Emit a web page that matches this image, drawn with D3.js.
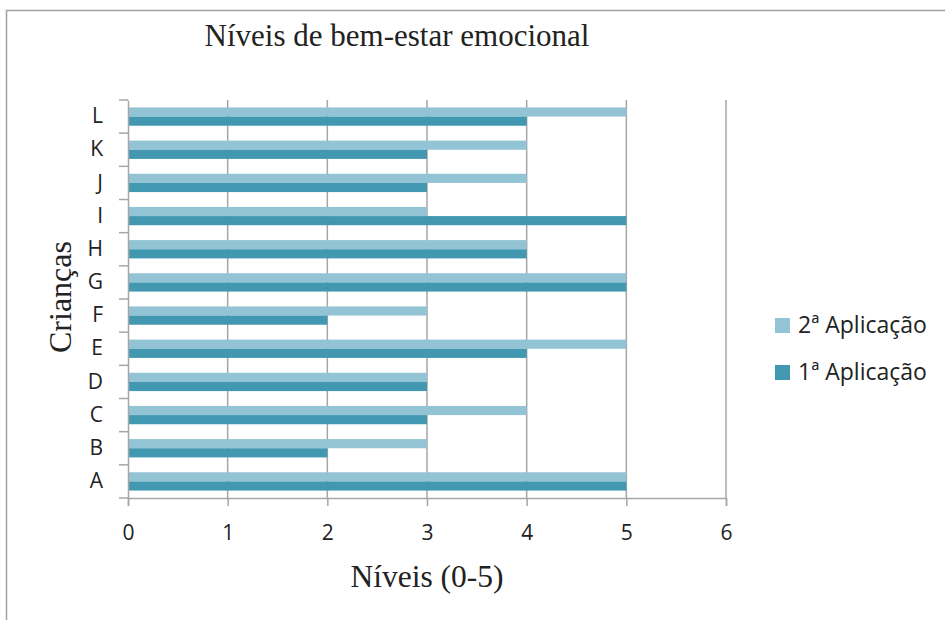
<!DOCTYPE html>
<html>
<head>
<meta charset="utf-8">
<script src="https://cdn.jsdelivr.net/npm/d3@7"></script>
<style>
  body { margin: 0; background: #fff; }
</style>
</head>
<body>
<div id="chart"></div>
<script>
let categories  =   ['A', 'B', 'C', 'D', 'E', 'F', 'G', 'H', 'I', 'J', 'K', 'L'];
let app2        =   [5, 3, 4, 3, 5, 3, 5, 4, 3, 4, 4, 5];
let app1        =   [5, 2, 3, 3, 4, 2, 5, 4, 5, 3, 3, 4];
let series_names =  ['2ª Aplicação', '1ª Aplicação'];
let x_ticks     =   [0, 1, 2, 3, 4, 5, 6];

let chart_width     =   945;
let chart_height    =   620;
let plot_left = 128, plot_right = 726, plot_top = 100, plot_bottom = 498;
let sans = "'Open Sans', 'DejaVu Sans', sans-serif";
let serif = "'Liberation Serif', 'Times New Roman', serif";
let grid_color = '#a6a6a6';
let colors = ['#93c4d5', '#4298b0'];

//svg
let svg = d3.select('#chart')
            .append('svg')
            .attr('width', chart_width)
            .attr('height', chart_height);

// outer frame (cut off at right/bottom)
svg.append('rect')
  .attr('x', 6.5).attr('y', 10.5)
  .attr('width', 1000).attr('height', 700)
  .attr('fill', 'none')
  .attr('stroke', '#a0a0a0')
  .attr('stroke-width', 1.5);

//scales
let x_scale = d3.scaleLinear()
        .domain([0, 6])
        .range([plot_left, plot_right]);

let y_scale = d3.scaleBand()
        .domain(categories.slice().reverse())
        .range([plot_top, plot_bottom]);

let sub_scale = d3.scaleBand()
        .domain([0, 1])
        .range([0, y_scale.bandwidth()])
        .paddingInner(0)
        .paddingOuter(0.81);

//grid
svg.append('g')
  .selectAll('line')
  .data(x_ticks.slice(1))
  .enter()
  .append('line')
  .attr('x1', d => x_scale(d))
  .attr('x2', d => x_scale(d))
  .attr('y1', plot_top)
  .attr('y2', plot_bottom)
  .attr('stroke', grid_color)
  .attr('stroke-width', 1.5);

//bars
let rows = categories.map((c, i) => ({ cat: c, vals: [app2[i], app1[i]] }));

svg.append('g')
  .selectAll('g')
  .data(rows)
  .enter()
  .append('g')
  .attr('transform', d => 'translate(0,' + y_scale(d.cat) + ')')
  .selectAll('rect')
  .data(d => d.vals)
  .enter()
  .append('rect')
  .attr('x', x_scale(0))
  .attr('y', (d, i) => sub_scale(i))
  .attr('width', d => x_scale(d) - x_scale(0))
  .attr('height', sub_scale.bandwidth())
  .attr('fill', (d, i) => colors[i]);

//axis
let x_axis = d3.axisBottom(x_scale)
        .tickValues(x_ticks)
        .tickFormat(d3.format('d'))
        .tickSize(8)
        .tickPadding(19);

let xg = svg.append('g')
  .attr('class', 'x-axis')
  .attr('transform', 'translate(0,' + plot_bottom + ')')
  .call(x_axis);

xg.select('.domain').attr('stroke', grid_color).attr('stroke-width', 1.5);
xg.selectAll('.tick line').attr('stroke', grid_color).attr('stroke-width', 1.5);
xg.selectAll('.tick text')
  .attr('font-family', sans)
  .attr('font-size', 21)
  .attr('fill', '#222');

let y_axis = d3.axisLeft(y_scale)
        .tickSize(0)
        .tickPadding(25);

let yg = svg.append('g')
  .attr('class', 'y-axis')
  .attr('transform', 'translate(' + plot_left + ',0)')
  .call(y_axis);

yg.select('.domain').attr('stroke', grid_color).attr('stroke-width', 1.5);
yg.selectAll('.tick text')
  .attr('font-family', sans)
  .attr('font-size', 21)
  .attr('fill', '#222');

// band boundary ticks
yg.append('g')
  .selectAll('line')
  .data(y_scale.domain().map(d => y_scale(d)).concat([plot_bottom]))
  .enter()
  .append('line')
  .attr('x1', -9).attr('x2', 0)
  .attr('y1', d => d).attr('y2', d => d)
  .attr('stroke', grid_color)
  .attr('stroke-width', 1.5);

//titles
svg.append('text')
  .text('Níveis de bem-estar emocional')
  .attr('x', 397).attr('y', 46)
  .attr('text-anchor', 'middle')
  .attr('font-family', serif)
  .attr('font-size', 31)
  .attr('fill', '#222');

svg.append('text')
  .text('Níveis (0-5)')
  .attr('x', 427).attr('y', 587)
  .attr('text-anchor', 'middle')
  .attr('font-family', serif)
  .attr('font-size', 31.5)
  .attr('fill', '#222');

svg.append('text')
  .text('Crianças')
  .attr('transform', 'translate(71,297) rotate(-90)')
  .attr('text-anchor', 'middle')
  .attr('font-family', serif)
  .attr('font-size', 32)
  .attr('fill', '#222');

//legend
let legend = svg.append('g')
  .selectAll('g')
  .data(series_names)
  .enter()
  .append('g')
  .attr('transform', (d, i) => 'translate(775,' + (318 + i * 47) + ')');

legend.append('rect')
  .attr('width', 15).attr('height', 15)
  .attr('fill', (d, i) => colors[i]);

legend.append('text')
  .text(d => d)
  .attr('x', 23).attr('y', 15)
  .attr('font-family', sans)
  .attr('font-size', 23)
  .attr('fill', '#222');
</script>
</body>
</html>
